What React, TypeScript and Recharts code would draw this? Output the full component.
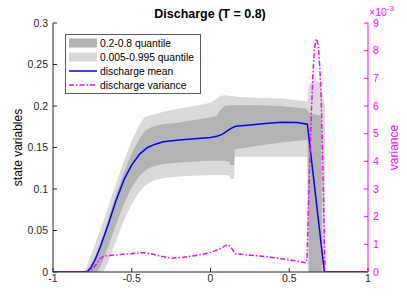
import { ComposedChart, Area, Line, XAxis, YAxis, Legend } from "recharts";

// grid shared by both quantile bands
const bandX = [
  -1, -0.81, -0.79, -0.78, -0.76, -0.75, -0.72, -0.7, -0.68, -0.65, -0.6, -0.55,
  -0.5, -0.45, -0.42, -0.4, -0.38, -0.35, -0.3, -0.2, -0.1, 0, 0.04, 0.06, 0.09,
  0.12, 0.125, 0.15, 0.155, 0.3, 0.45, 0.6, 0.613, 0.617, 0.625, 0.66, 0.69,
  0.705, 0.708, 0.727, 0.73, 1,
];
const lightLo = [
  0, 0, 0, 0, 0, 0, 0, 0, 0, 0.012, 0.037, 0.062, 0.082, 0.097, 0.103, 0.106,
  0.108, 0.111, 0.113, 0.115, 0.116, 0.117, 0.117, 0.117, 0.117, 0.116, 0.112,
  0.112, 0.139, 0.139, 0.139, 0.139, 0.139, 0, 0, 0, 0, 0, 0, 0, 0, 0,
];
const darkLo = [
  0, 0, 0, 0, 0, 0, 0, 0.006, 0.015, 0.03, 0.057, 0.082, 0.102, 0.116, 0.121,
  0.124, 0.126, 0.128, 0.13, 0.132, 0.133, 0.134, 0.134, 0.134, 0.134, 0.133,
  0.129, 0.129, 0.148, 0.152, 0.156, 0.159, 0.159, 0.159, 0, 0, 0, 0, 0, 0, 0, 0,
];
const darkHi = [
  0, 0, 0, 0.003, 0.008, 0.012, 0.025, 0.035, 0.046, 0.063, 0.093, 0.12, 0.143,
  0.161, 0.169, 0.172, 0.174, 0.176, 0.178, 0.18, 0.183, 0.186, 0.188, 0.195,
  0.2, 0.201, 0.201, 0.201, 0.201, 0.201, 0.2, 0.197, 0.196, 0.195, 0.192, 0.19,
  0.189, 0.185, 0, 0, 0, 0,
];
const lightHi = [
  0, 0, 0.005, 0.01, 0.02, 0.025, 0.04, 0.05, 0.061, 0.078, 0.106, 0.134, 0.158,
  0.178, 0.186, 0.188, 0.189, 0.19, 0.193, 0.197, 0.2, 0.204, 0.209, 0.212,
  0.213, 0.212, 0.212, 0.212, 0.211, 0.21, 0.209, 0.206, 0.205, 0.21, 0.225,
  0.232, 0.228, 0.222, 0.218, 0.2, 0, 0,
];

// discharge mean
const meanX = [
  -1, -0.786, -0.76, -0.73, -0.7, -0.65, -0.6, -0.55, -0.5, -0.45, -0.4, -0.35,
  -0.3, -0.2, -0.1, 0, 0.04, 0.07, 0.1, 0.13, 0.16, 0.25, 0.35, 0.45, 0.55,
  0.615, 0.723, 1,
];
const meanY = [
  0, 0, 0.005, 0.016, 0.03, 0.057, 0.086, 0.111, 0.129, 0.142, 0.15, 0.154,
  0.157, 0.159, 0.1605, 0.162, 0.1635, 0.1655, 0.169, 0.173, 0.1755, 0.177,
  0.179, 0.1805, 0.18, 0.178, 0, 0,
];

// discharge variance, in units of 1e-3
const varX = [
  -1, -0.78, -0.75, -0.723, -0.7, -0.68, -0.64, -0.55, -0.49, -0.43, -0.37,
  -0.3, -0.25, -0.17, -0.07, 0, 0.06, 0.1, 0.12, 0.14, 0.156, 0.19, 0.36, 0.5,
  0.606, 0.613, 0.62, 0.63, 0.64, 0.65, 0.66, 0.672, 0.684, 0.694, 0.703, 0.71,
  0.717, 0.724, 0.728, 1,
];
const varY = [
  0, 0, 0.1, 0.3, 0.48, 0.56, 0.6, 0.64, 0.67, 0.7, 0.65, 0.55, 0.5, 0.53, 0.62,
  0.7, 0.84, 0.97, 0.96, 0.82, 0.66, 0.64, 0.55, 0.44, 0.33, 0.5, 2.0, 3.9, 5.7,
  7.1, 8.1, 8.43, 8.2, 7.4, 6.2, 4.6, 2.8, 0.6, 0, 0,
];

const xTicks = [-1, -0.5, 0, 0.5, 1];
const leftTicks = [0, 0.05, 0.1, 0.15, 0.2, 0.25, 0.3];
const rightTicks = [0, 1, 2, 3, 4, 5, 6, 7, 8, 9];

const legendItems = [
  { label: "0.2-0.8 quantile", kind: "dark" },
  { label: "0.005-0.995 quantile", kind: "light" },
  { label: "discharge mean", kind: "mean" },
  { label: "discharge variance", kind: "var" },
];

const bandData = bandX.map((x, i) => ({
  x,
  light: [lightLo[i], lightHi[i]],
  dark: [darkLo[i], darkHi[i]],
}));
const meanData = meanX.map((x, i) => ({ x, mean: meanY[i] }));
const varData = varX.map((x, i) => ({ x, variance: varY[i] }));

const FONT = "'Liberation Sans', Arial, Helvetica, sans-serif";
const AXIS = "#262626";
const DARK = "#b3b3b3";
const LIGHT = "#d9d9d9";
const BLUE = "#0000ff";
const MAGENTA = "#ff00ff";
const DASHDOT = "5 2 1.5 2";

function LegendBox() {
  return (
    <div
      style={{
        border: "1px solid #5a5a5a",
        background: "#fff",
        padding: "1px 3px 1px 3px",
        fontFamily: FONT,
        fontSize: 10.3,
        color: "#000",
        width: 128,
      }}
    >
      {legendItems.map((it) => (
        <div
          key={it.label}
          style={{ display: "flex", alignItems: "center", height: 14 }}
        >
          <svg width={28} height={10} style={{ marginRight: 3 }}>
            {it.kind === "dark" && <rect x={0} y={0.5} width={28} height={9} fill={DARK} />}
            {it.kind === "light" && <rect x={0} y={0.5} width={28} height={9} fill={LIGHT} />}
            {it.kind === "mean" && (
              <line x1={0} x2={28} y1={5} y2={5} stroke={BLUE} strokeWidth={1.5} />
            )}
            {it.kind === "var" && (
              <line
                x1={0}
                x2={28}
                y1={5}
                y2={5}
                stroke={MAGENTA}
                strokeWidth={1.5}
                strokeDasharray={DASHDOT}
              />
            )}
          </svg>
          <span style={{ whiteSpace: "nowrap" }}>{it.label}</span>
        </div>
      ))}
    </div>
  );
}

export default function App() {
  return (
    <div
      style={{
        position: "absolute",
        left: 0,
        top: 0,
        width: 407,
        height: 305,
        background: "#fff",
        fontFamily: FONT,
      }}
    >
      <ComposedChart
        width={407}
        height={305}
        margin={{ top: 23, right: 9, bottom: 13, left: 8 }}
      >
        <XAxis
          type="number"
          dataKey="x"
          domain={[-1, 1]}
          ticks={xTicks}
          allowDataOverflow
          height={20}
          stroke={AXIS}
          tickSize={-4}
          tickMargin={7}
          tick={{ fill: AXIS, fontSize: 10.5, fontFamily: FONT }}
        />
        <YAxis
          yAxisId="left"
          domain={[0, 0.3]}
          ticks={leftTicks}
          allowDataOverflow
          width={45}
          stroke={AXIS}
          tickSize={-4}
          tickMargin={9}
          tick={{ fill: AXIS, fontSize: 10.5, fontFamily: FONT }}
        />
        <YAxis
          yAxisId="right"
          orientation="right"
          domain={[0, 9]}
          ticks={rightTicks}
          allowDataOverflow
          width={30}
          stroke={MAGENTA}
          tickSize={-4}
          tickMargin={9}
          tick={{ fill: MAGENTA, fontSize: 10.5, fontFamily: FONT }}
        />
        <Area
          yAxisId="left"
          data={bandData}
          dataKey="light"
          type="linear"
          fill={LIGHT}
          fillOpacity={1}
          stroke="none"
          isAnimationActive={false}
          activeDot={false}
        />
        <Area
          yAxisId="left"
          data={bandData}
          dataKey="dark"
          type="linear"
          fill={DARK}
          fillOpacity={1}
          stroke="none"
          isAnimationActive={false}
          activeDot={false}
        />
        <Line
          yAxisId="left"
          data={meanData}
          dataKey="mean"
          type="linear"
          stroke={BLUE}
          strokeWidth={1.5}
          dot={false}
          activeDot={false}
          isAnimationActive={false}
        />
        <Line
          yAxisId="right"
          data={varData}
          dataKey="variance"
          type="linear"
          stroke={MAGENTA}
          strokeWidth={1.5}
          strokeDasharray={DASHDOT}
          dot={false}
          activeDot={false}
          isAnimationActive={false}
        />
        <Legend
          layout="horizontal"
          verticalAlign="middle"
          align="center"
          content={() => <LegendBox />}
          wrapperStyle={{ left: 65, top: 34, width: "auto", height: "auto" }}
        />
      </ComposedChart>
      <svg
        width={407}
        height={305}
        style={{ position: "absolute", left: 0, top: 0, pointerEvents: "none" }}
        fontFamily={FONT}
      >
        <text x={210} y={17.5} textAnchor="middle" fontWeight="bold" fontSize={12.5} fill="#000">
          Discharge (T = 0.8)
        </text>
        <text
          x={21.5}
          y={147.5}
          transform="rotate(-90 21.5 147.5)"
          textAnchor="middle"
          fontSize={12}
          fill="#000"
        >
          state variables
        </text>
        <text
          x={397.5}
          y={147.5}
          transform="rotate(-90 397.5 147.5)"
          textAnchor="middle"
          fontSize={12}
          fill={MAGENTA}
        >
          variance
        </text>
        <text x={369} y={16} fontSize={10.5} fill={MAGENTA}>
          ×10
          <tspan dy={-5} fontSize={8}>-3</tspan>
        </text>
      </svg>
    </div>
  );
}
